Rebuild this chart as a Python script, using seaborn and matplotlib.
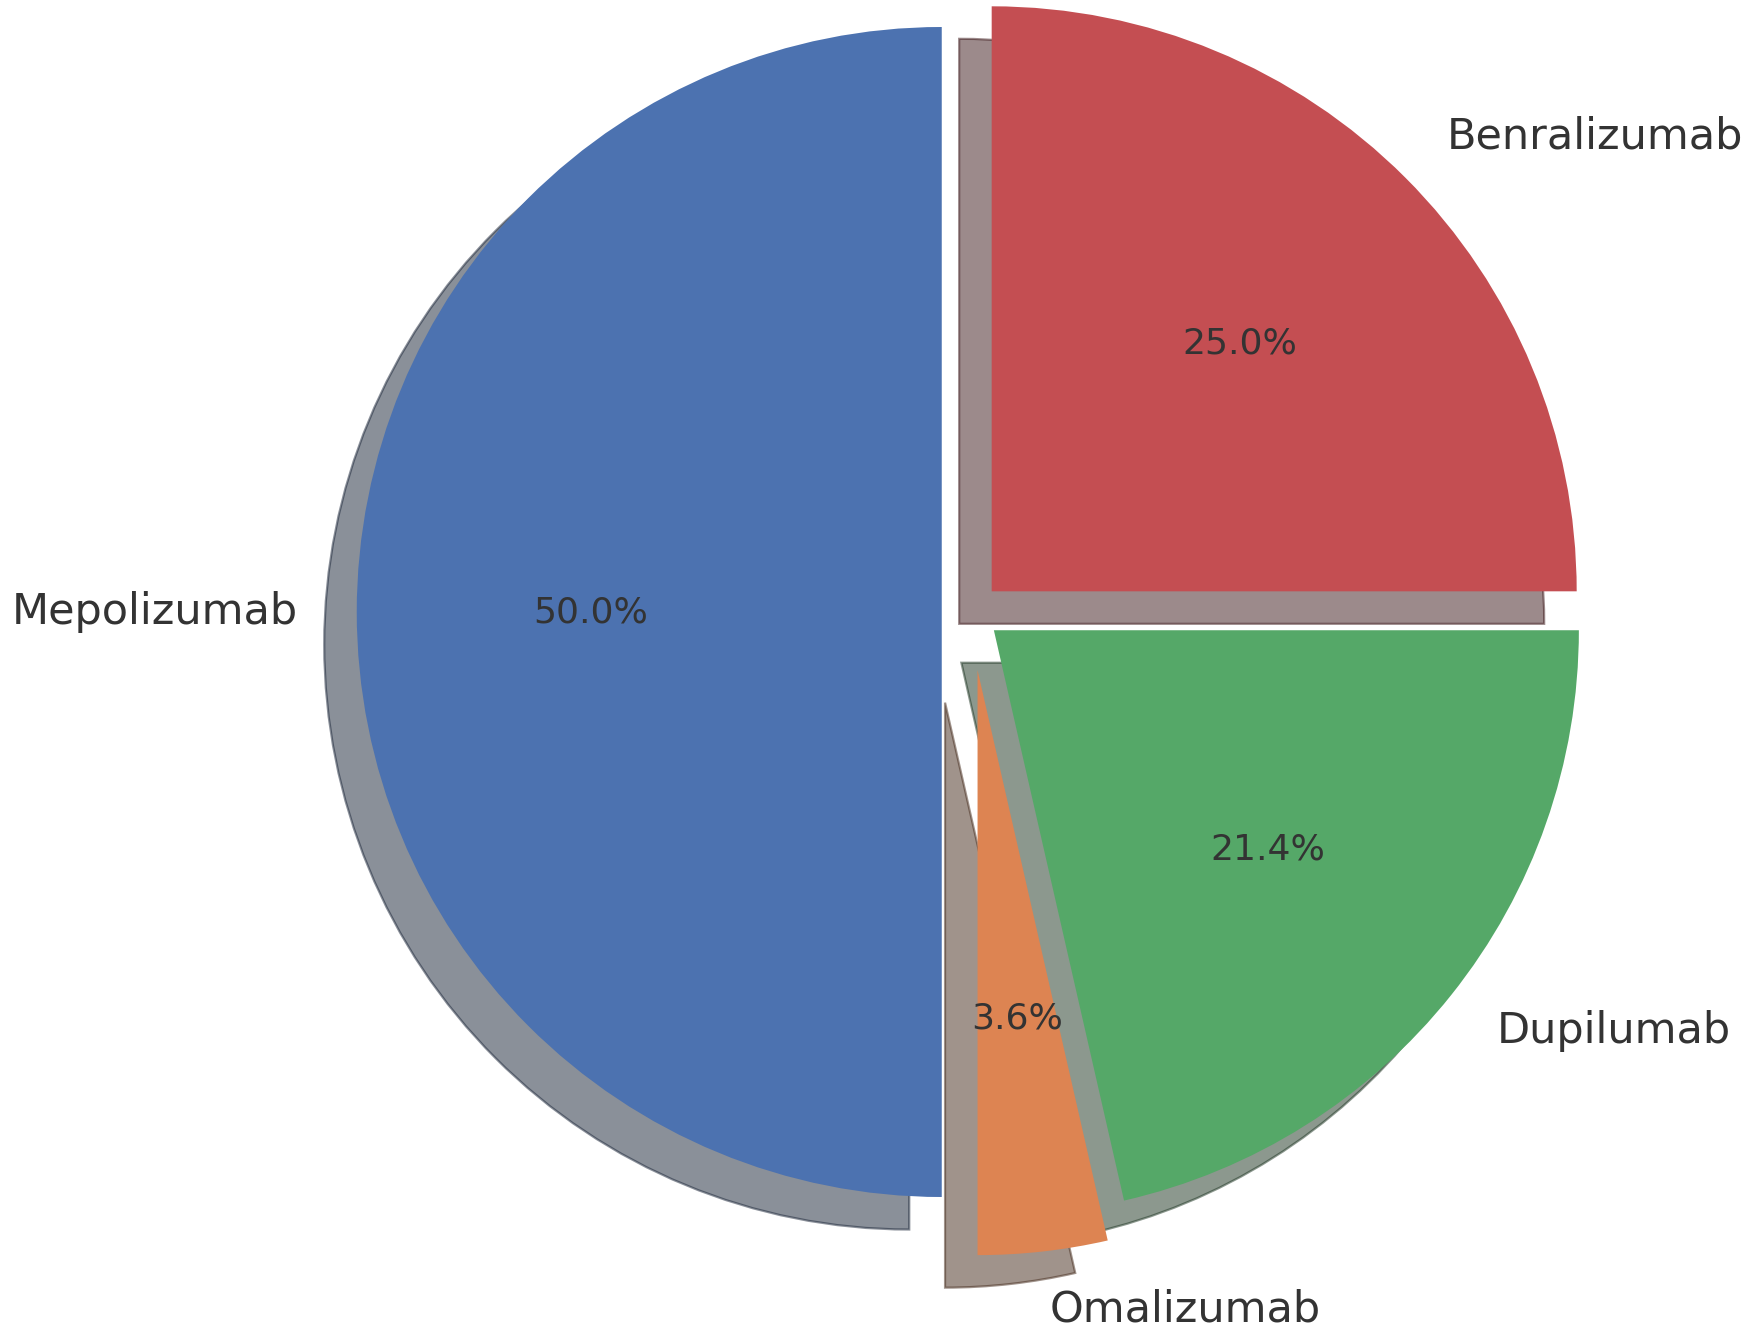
import matplotlib
matplotlib.use("Agg")
import matplotlib.pyplot as plt
import matplotlib.patches as mpatches
import seaborn as sns

# Data
drugs = ["Mepolizumab", "Omalizumab", "Dupilumab", "Benralizumab"]
patients = [14, 1, 6, 7]
explode = [0.05, 0.1, 0.05, 0.05]

sns.set_theme(style="white")
plt.rcParams['font.family'] = ['DejaVu Sans']
palette = sns.color_palette("deep")
colors = [palette[0], palette[1], palette[2], palette[3]]

W, H, DPI = 1748, 1330, 200
fig = plt.figure(figsize=(W / DPI, H / DPI), dpi=DPI)
ax = fig.add_axes([0, 0, 1, 1])

wedges, texts, autotexts = ax.pie(
    patients, labels=drugs, colors=colors, explode=explode,
    autopct='%1.1f%%', startangle=90, shadow=True,
    wedgeprops={'linewidth': 0},
    textprops={'fontsize': 15.5, 'color': '#333333'},
)
for t in autotexts:
    t.set_fontsize(13)
    t.set_color('#333333')

# shadows keep a thin darker outline as in the reference
for p in ax.patches:
    if isinstance(p, mpatches.Shadow):
        p.set_linewidth(0.8)

# position the pie like the reference (center px, radius px)
cx, cy, r = 971, 612, 585
ax.set_xlim(-cx / r, (W - cx) / r)
ax.set_ylim(-(H - cy) / r, cy / r)
ax.set_aspect('auto')
ax.axis('off')

fig.savefig("out.png", dpi=DPI)
